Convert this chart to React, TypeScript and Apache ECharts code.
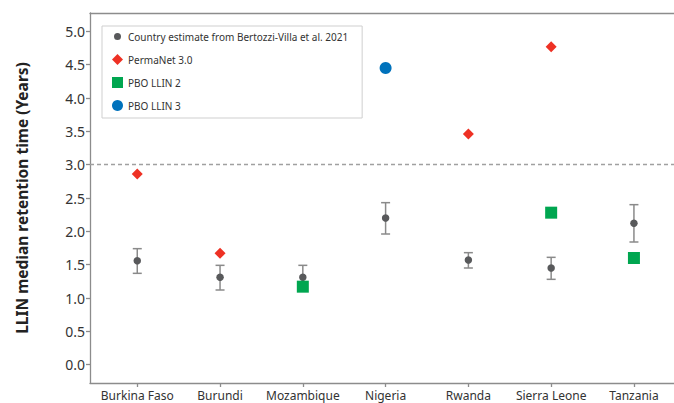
import React, { useEffect, useRef } from 'react';
import * as echarts from 'echarts';

// Countries along the x axis
const categories = ['Burkina Faso', 'Burundi', 'Mozambique', 'Nigeria', 'Rwanda', 'Sierra Leone', 'Tanzania'];

// Country estimates (Bertozzi-Villa et al. 2021) with their uncertainty ranges, in years
const estimate = [1.56, 1.31, 1.31, 2.2, 1.57, 1.45, 2.12];
const estimateLow = [1.37, 1.12, 1.13, 1.96, 1.45, 1.28, 1.84];
const estimateHigh = [1.74, 1.49, 1.49, 2.43, 1.68, 1.61, 2.4];

// Product-specific retention times, in years (null = not measured)
const permanet = [2.86, 1.67, null, null, 3.46, 4.77, null];
const pboLlin2 = [null, null, 1.17, null, null, 2.28, 1.6];
const pboLlin3 = [null, null, null, 4.45, null, null, null];

// Axis ticks and the 3-year reference line
const yTicks = [0, 0.5, 1, 1.5, 2, 2.5, 3, 3.5, 4, 4.5, 5];
const xTicks = [0, 1, 2, 3, 4, 5, 6];
const threshold = 3.0;

const ESTIMATE_NAME = 'Country estimate from Bertozzi-Villa et al. 2021';
const FONT = 'Noto Sans';
const AXIS_LINE = { color: '#8c8c8c', width: 1.3 };
const X_MIN = -0.571;
const X_MAX = 6.484;

const points = (vals: (number | null)[]) =>
  vals.map((v, i) => (v == null ? null : [i, v])).filter((p) => p !== null);

export default function App() {
  const ref = useRef<HTMLDivElement>(null);

  useEffect(() => {
    const chart = echarts.init(ref.current!, null, { renderer: 'svg' });

    const ranges = categories.map((_, i) => [i, estimateLow[i], estimateHigh[i]]);

    chart.setOption({
      animation: false,
      textStyle: { fontFamily: FONT },
      grid: { left: 90, top: 13, bottom: 20, right: 0 },
      legend: {
        orient: 'vertical',
        left: 102,
        top: 26,
        padding: [5, 14, 7, 10],
        itemGap: 12,
        itemWidth: 11,
        itemHeight: 11,
        borderColor: '#cfcfcf',
        borderWidth: 1,
        textStyle: { fontFamily: FONT, fontSize: 10, color: '#333' },
        data: [
          {
            name: ESTIMATE_NAME,
            icon: 'path://M0,0L0,0M11,11L11,11M5.5,2A3.5,3.5,0,1,1,5.5,9A3.5,3.5,0,1,1,5.5,2Z',
          },
          { name: 'PermaNet 3.0', icon: 'diamond' },
          { name: 'PBO LLIN 2', icon: 'rect' },
          { name: 'PBO LLIN 3', icon: 'circle' },
        ],
      },
      xAxis: [
        {
          type: 'value',
          position: 'bottom',
          min: X_MIN,
          max: X_MAX,
          splitLine: { show: false },
          axisLine: { show: true, onZero: false, lineStyle: AXIS_LINE },
          axisTick: { show: true, length: 4, customValues: xTicks, lineStyle: AXIS_LINE },
          axisLabel: {
            customValues: xTicks,
            formatter: (v: number) => categories[Math.round(v)] ?? '',
            fontFamily: FONT,
            fontSize: 12,
            color: '#333',
            margin: 6,
          },
        },
        {
          // top frame line
          type: 'value',
          position: 'top',
          min: X_MIN,
          max: X_MAX,
          splitLine: { show: false },
          axisLine: { show: true, onZero: false, lineStyle: AXIS_LINE },
          axisTick: { show: false },
          axisLabel: { show: false },
        },
      ],
      yAxis: {
        type: 'value',
        min: -0.275,
        max: 5.275,
        splitLine: { show: false },
        name: 'LLIN median retention time (Years)',
        nameLocation: 'middle',
        nameGap: 60,
        nameRotate: 90,
        nameTextStyle: { fontFamily: FONT, fontSize: 15.5, fontWeight: 'bold', color: '#222' },
        axisLine: { show: true, onZero: false, lineStyle: AXIS_LINE },
        axisTick: { show: true, length: 4, customValues: yTicks, lineStyle: AXIS_LINE },
        axisLabel: {
          customValues: yTicks,
          formatter: (v: number) => v.toFixed(1),
          fontFamily: FONT,
          fontSize: 14,
          color: '#333',
          margin: 5,
        },
      },
      series: [
        {
          name: 'error-range',
          type: 'custom',
          z: 2,
          silent: true,
          data: ranges,
          encode: { x: 0, y: [1, 2] },
          renderItem: (_params: any, api: any) => {
            const x = api.value(0);
            const lo = api.coord([x, api.value(1)]);
            const hi = api.coord([x, api.value(2)]);
            const cap = 4.5;
            const style = { stroke: '#8a8a8a', lineWidth: 1.5 };
            return {
              type: 'group',
              children: [
                { type: 'line', shape: { x1: lo[0], y1: lo[1], x2: hi[0], y2: hi[1] }, style },
                { type: 'line', shape: { x1: lo[0] - cap, y1: lo[1], x2: lo[0] + cap, y2: lo[1] }, style },
                { type: 'line', shape: { x1: hi[0] - cap, y1: hi[1], x2: hi[0] + cap, y2: hi[1] }, style },
              ],
            };
          },
        },
        {
          name: ESTIMATE_NAME,
          type: 'scatter',
          z: 3,
          symbol: 'circle',
          symbolSize: 7.5,
          itemStyle: { color: '#58595b', opacity: 1 },
          data: points(estimate),
          markLine: {
            silent: true,
            symbol: 'none',
            label: { show: false },
            lineStyle: { type: [4, 3], color: '#a0a0a0', width: 1.3 },
            data: [{ yAxis: threshold }],
          },
        },
        {
          name: 'PermaNet 3.0',
          type: 'scatter',
          z: 4,
          symbol: 'diamond',
          symbolSize: 11,
          itemStyle: { color: '#ee3124', opacity: 1 },
          data: points(permanet),
        },
        {
          name: 'PBO LLIN 2',
          type: 'scatter',
          z: 4,
          symbol: 'rect',
          symbolSize: 12,
          itemStyle: { color: '#00a650', opacity: 1 },
          data: points(pboLlin2),
        },
        {
          name: 'PBO LLIN 3',
          type: 'scatter',
          z: 4,
          symbol: 'circle',
          symbolSize: 12,
          itemStyle: { color: '#0072bc', opacity: 1 },
          data: points(pboLlin3),
        },
      ],
    });

    return () => chart.dispose();
  }, []);

  return (
    <div
      ref={ref}
      style={{ position: 'fixed', left: 0, top: 0, width: 674, height: 403, background: '#fff' }}
    />
  );
}
